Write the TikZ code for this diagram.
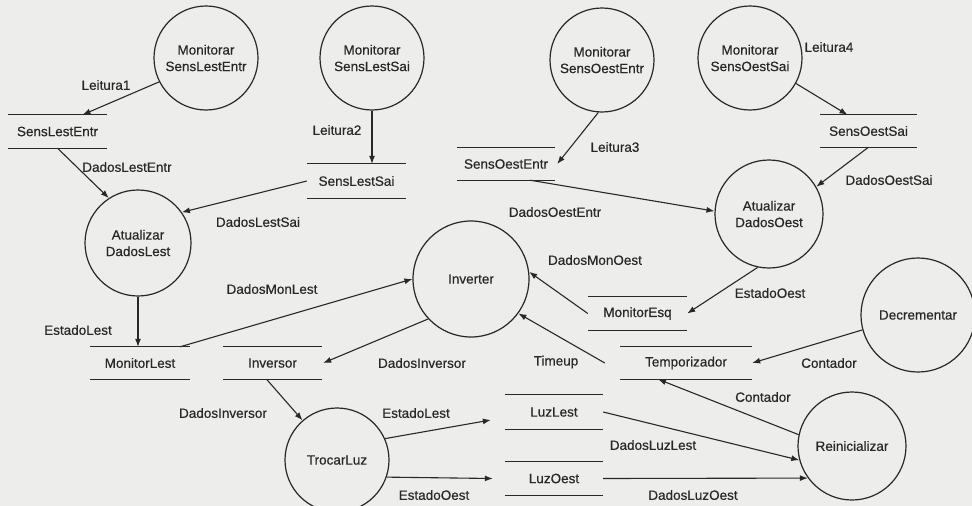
\documentclass[tikz,border=0pt]{standalone}
\usepackage{fontspec}
\setmainfont{Liberation Sans}[BoldFont=Liberation Sans,BoldFeatures={FakeBold=0.5}]
\usetikzlibrary{arrows.meta,calc}
\definecolor{paper}{RGB}{237,237,235}
\definecolor{ink}{RGB}{40,40,40}
\begin{document}
\begin{tikzpicture}[x=1pt,y=-1pt,
  font=\fontsize{13.5}{16.5}\selectfont\bfseries,
  every node/.style={text=ink},
  proc/.style={circle,draw=ink,line width=1.2pt,minimum size=#1,inner sep=0pt,align=center},
  proc/.default=104pt,
  store/.style={minimum width=#1,minimum height=32pt,inner sep=0pt},
  store/.default=99pt,
  lbl/.style={inner sep=1pt},
  flow/.style={draw=ink,line width=1.1pt,-{Latex[length=8pt,width=6pt]}}
]
\useasboundingbox (0,0) rectangle (972,506);
\fill[paper] (0,0) rectangle (972,506);

% processes
\node[proc]      (mLE)  at (206,58)  {Monitorar\\SensLestEntr};
\node[proc]      (mLS)  at (372,58)  {Monitorar\\SensLestSai};
\node[proc]      (mOE)  at (602,60)  {Monitorar\\SensOestEntr};
\node[proc]      (mOS)  at (750,58)  {Monitorar\\SensOestSai};
\node[proc=106pt] (aDL) at (138,243) {Atualizar\\DadosLest};
\node[proc=108pt] (aDO) at (769,214) {Atualizar\\DadosOest};
\node[proc=116pt] (invr) at (471,279) {Inverter};
\node[proc=114pt] (dec) at (918,315) {Decrementar};
\node[proc=108pt] (rei) at (852,446) {Reinicializar};
\node[proc]      (tro)  at (337,460) {TrocarLuz};

% data stores
\node[store,minimum height=33pt] (sLE) at (57.5,131.5) {SensLestEntr};
\node[store,minimum height=34pt] (sLS) at (356.5,181) {SensLestSai};
\node[store=98pt]  (sOE) at (506,164)   {SensOestEntr};
\node[store=97pt]  (sOS) at (868.5,131) {SensOestSai};
\node[store=100pt] (mL)  at (140,363)   {MonitorLest};
\node[store]       (inv) at (272.5,363) {Inversor};
\node[store,minimum height=33pt] (mE) at (637.5,313.5) {MonitorEsq};
\node[store=132pt] (tmp) at (686,363)   {Temporizador};
\node[store=98pt,minimum height=34pt] (lL) at (554,412) {LuzLest};
\node[store=98pt,minimum height=33pt] (lO) at (554,478.5) {LuzOest};
\foreach \s in {sLE,sLS,sOE,sOS,mL,inv,mE,tmp,lL,lO}
  \draw[ink,line width=1.1pt] (\s.north west) -- (\s.north east)
                              (\s.south west) -- (\s.south east);

% flows
\draw[flow] (mLE.207) -- ([xshift=25pt]sLE.north);
\draw[flow] (mLS.south) -- (mLS.south |- sLS.north);
\draw[flow] (mOE.266) -- ([xshift=2pt]sOE.east);
\draw[flow] (mOS.331) -- ([xshift=-21pt]sOS.north);
\draw[flow] (sLE.south) -- (aDL.123);
\draw[flow] (sLS.west) -- (aDL.35);
\draw[flow] ([xshift=24pt]sOE.south) -- (aDO.177);
\draw[flow] (sOS.south) -- (aDO.30);
\draw[flow] ([xshift=40pt]mL.north) -- (invr.180);
\draw[flow] (aDL.south) -- (aDL.south |- mL.north);
\draw[flow] (invr.223) -- ([xshift=1pt]inv.east);
\draw[flow] ([xshift=-6pt]inv.south) -- (tro.131);
\draw[flow] (mE.west) -- (invr.7);
\draw[flow] ([xshift=-15pt]tmp.west) -- (invr.324);
\draw[flow] (aDO.258) -- (mE.east);
\draw[flow] (dec.195) -- (tmp.east);
\draw[flow] (rei.168) -- ([xshift=-28pt]tmp.south);
\draw[flow] (lL.east) -- (rei.195);
\draw[flow] (lO.east) -- (rei.216);
\draw[flow] (tro.24) -- ([xshift=-14pt,yshift=-8pt]lL.west);
\draw[flow] (tro.341) -- ([xshift=-12pt]lO.west);

% flow labels
\node[lbl] (t1)  at (106,85)  {Leitura1};
\node[lbl] (t2)  at (337,130) {Leitura2};
\node[lbl] (t3)  at (615,147) {Leitura3};
\node[lbl] (t4)  at (829,47)  {Leitura4};
\node[lbl] (t5)  at (127,167) {DadosLestEntr};
\node[lbl] (t6)  at (258,222) {DadosLestSai};
\node[lbl] (t7)  at (555,212) {DadosOestEntr};
\node[lbl] (t8)  at (889,180) {DadosOestSai};
\node[lbl] (t9)  at (272,289) {DadosMonLest};
\node[lbl] (t10) at (78,330)  {EstadoLest};
\node[lbl] (t11) at (422,363) {DadosInversor};
\node[lbl] (t12) at (223,413) {DadosInversor};
\node[lbl] (t13) at (595,260) {DadosMonOest};
\node[lbl] (t14) at (556,362) {Timeup};
\node[lbl] (t15) at (770,293) {EstadoOest};
\node[lbl] (t16) at (829,363) {Contador};
\node[lbl] (t17) at (763,397) {Contador};
\node[lbl] (t18) at (653,445) {DadosLuzLest};
\node[lbl] (t19) at (693,495) {DadosLuzOest};
\node[lbl] (t20) at (416,413) {EstadoLest};
\node[lbl] (t21) at (434,495) {EstadoOest};
\end{tikzpicture}
\end{document}
